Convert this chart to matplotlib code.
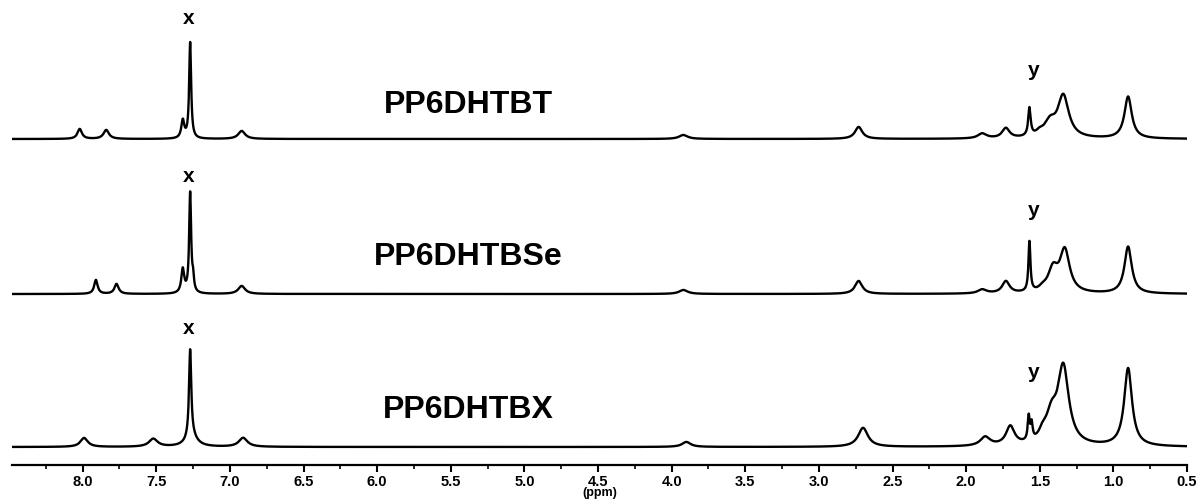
import numpy as np
import matplotlib.pyplot as plt
from matplotlib.ticker import MultipleLocator

plt.rcParams['font.family'] = ['Liberation Sans', 'DejaVu Sans']

# peak lists: position (ppm), height, half width (ppm)
bt_pos = [8.02, 7.84, 7.32, 7.27, 6.92, 3.92, 2.73, 1.89, 1.73, 1.57, 1.50, 1.43, 1.34, 0.90]
bt_h = [10, 9, 18, 96, 8, 4, 12, 5, 10, 28, 4, 14, 42, 42]
bt_w = [0.018, 0.022, 0.012, 0.008, 0.028, 0.035, 0.03, 0.035, 0.03, 0.01, 0.03, 0.045, 0.045, 0.03]

bse_pos = [7.91, 7.77, 7.32, 7.27, 7.25, 6.92, 3.92, 2.73, 1.89, 1.73, 1.57, 1.48, 1.41, 1.33, 0.90]
bse_h = [14, 10, 24, 100, 12, 8, 4, 13, 4, 12, 50, 3, 22, 42, 47]
bse_w = [0.014, 0.017, 0.012, 0.008, 0.007, 0.028, 0.035, 0.03, 0.035, 0.03, 0.008, 0.03, 0.04, 0.04, 0.03]

bx_pos = [7.99, 7.52, 7.27, 7.26, 6.91, 3.90, 2.70, 1.87, 1.70, 1.575, 1.555, 1.48, 1.42, 1.34, 0.90]
bx_h = [9, 8, 88, 10, 9, 5, 19, 9, 19, 24, 16, 8, 26, 77, 78]
bx_w = [0.03, 0.035, 0.009, 0.045, 0.035, 0.035, 0.04, 0.04, 0.035, 0.008, 0.008, 0.03, 0.045, 0.045, 0.032]

names = ['PP6DHTBT', 'PP6DHTBSe', 'PP6DHTBX']
offsets = [326, 171, 18]
name_y = [360, 208, 55]
x_y = [447, 289, 136]
y_y = [395, 255, 93]


def spectrum(ppm, pos, h, w):
    s = np.zeros_like(ppm)
    for p, a, g in zip(pos, h, w):
        s += a * g ** 2 / ((ppm - p) ** 2 + g ** 2)
    return s


ppm = np.linspace(0.5, 8.48, 8000)

fig = plt.figure(figsize=(11.97, 5.04), dpi=100)
ax = fig.add_axes([12 / 1197, 39 / 504, 1175 / 1197, 465 / 504])

peaks = [(bt_pos, bt_h, bt_w), (bse_pos, bse_h, bse_w), (bx_pos, bx_h, bx_w)]
for (pos, h, w), off, nm, ny, xy, yy in zip(peaks, offsets, names, name_y, x_y, y_y):
    ax.plot(ppm, off + spectrum(ppm, pos, h, w), color='black', lw=1.7)
    ax.text(5.38, ny, nm, fontsize=23, fontweight='bold', ha='center', va='center')
    ax.text(7.28, xy, 'x', fontsize=15, fontweight='bold', ha='center', va='center')
    ax.text(1.54, yy, 'y', fontsize=15, fontweight='bold', ha='center', va='center')

ax.set_xlim(8.48, 0.5)
ax.set_ylim(0, 465)
for s in ['left', 'right', 'top']:
    ax.spines[s].set_visible(False)
ax.spines['bottom'].set_linewidth(1.6)
ax.set_yticks([])
ax.xaxis.set_major_locator(MultipleLocator(0.5))
ax.xaxis.set_minor_locator(MultipleLocator(0.25))
ax.tick_params(axis='x', which='major', length=5, width=1.5, direction='out', pad=2)
ax.tick_params(axis='x', which='minor', length=3, width=1.2, direction='out')
ax.set_xticks(np.arange(0.5, 8.01, 0.5))
ax.set_xticklabels(['%.1f' % v for v in np.arange(0.5, 8.01, 0.5)], fontsize=10.5, fontweight='bold')
ax.set_xlabel('(ppm)', fontsize=9, fontweight='bold', labelpad=-1)
ax.patch.set_visible(False)

fig.savefig('out.png', dpi=100)
